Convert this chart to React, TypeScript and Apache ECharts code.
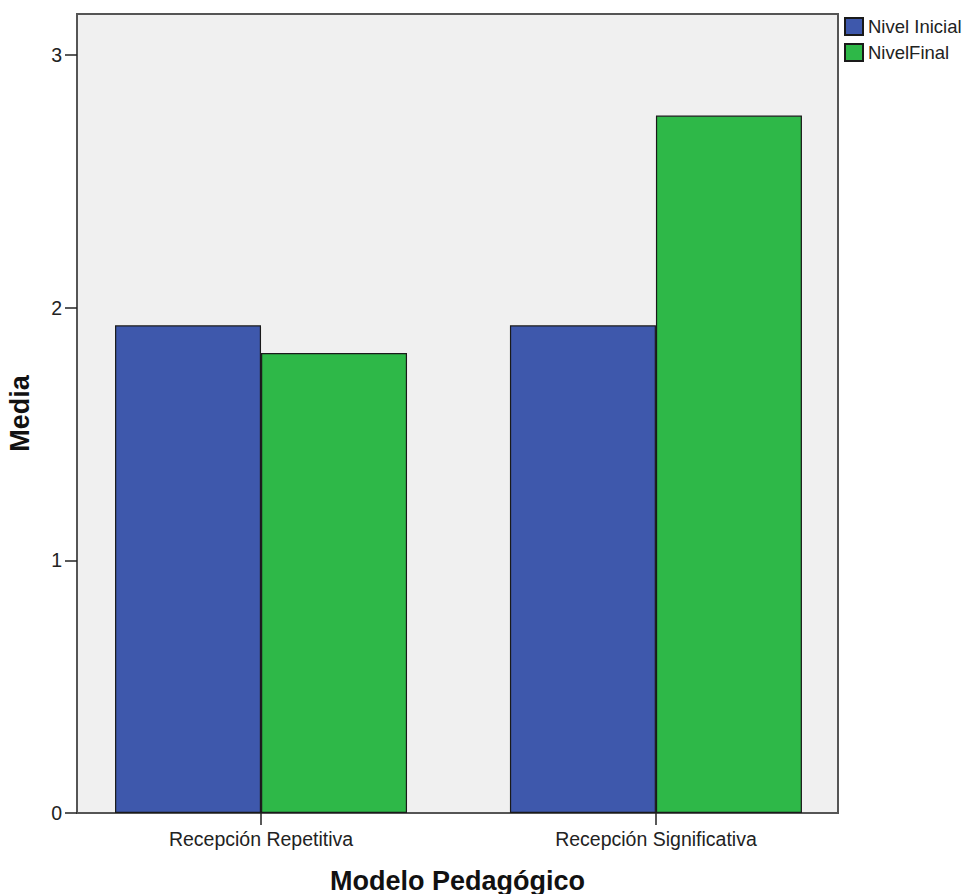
import React, { useEffect, useRef } from "react";
import * as echarts from "echarts";

const categories = ["Recepción Repetitiva", "Recepción Significativa"];
const categoryPositions = [1, 2];
const nivelInicial = [1.93, 1.93];
const nivelFinal = [1.82, 2.76];
const yTicks = [0, 1, 2, 3];
const seriesNames = ["Nivel Inicial", "NivelFinal"];

const FONT = "'Liberation Sans', Arial, sans-serif";

export default function App() {
  const ref = useRef<HTMLDivElement>(null);
  useEffect(() => {
    if (!ref.current) return;
    const chart = echarts.init(ref.current, undefined, { renderer: "svg" });
    chart.setOption({
      animation: false,
      textStyle: { fontFamily: FONT },
      grid: {
        left: 77,
        right: 128,
        top: 14,
        bottom: 81,
        containLabel: false,
        outerBoundsMode: "none",
        show: true,
        backgroundColor: "#f0f0f0",
        borderColor: "#555555",
        borderWidth: 2,
      },
      legend: {
        orient: "vertical",
        left: 844,
        top: 17,
        padding: 0,
        itemWidth: 18,
        itemHeight: 17,
        itemGap: 7,
        icon: "rect",
        align: "left",
        textStyle: { fontSize: 18.5, color: "#222", fontFamily: FONT },
        data: seriesNames,
      },
      xAxis: {
        type: "value",
        min: 0.534,
        max: 2.461,
        name: "Modelo Pedagógico",
        nameLocation: "middle",
        nameGap: 54,
        nameTextStyle: { fontSize: 27, fontWeight: "bold", color: "#111", fontFamily: FONT },
        splitLine: { show: false },
        axisLine: { show: true, lineStyle: { color: "#555555", width: 2 } },
        axisTick: {
          show: true,
          customValues: categoryPositions,
          length: 12,
          lineStyle: { color: "#222", width: 1.5 },
        },
        axisLabel: {
          customValues: categoryPositions,
          fontSize: 19.5,
          color: "#222",
          margin: 16,
          formatter: (v: number) => {
            const i = categoryPositions.indexOf(Math.round(v));
            return i >= 0 ? categories[i] : "";
          },
        },
      },
      yAxis: {
        type: "value",
        min: 0,
        max: 3.162,
        name: "Media",
        nameLocation: "middle",
        nameGap: 44,
        nameRotate: 90,
        nameTextStyle: { fontSize: 27, fontWeight: "bold", color: "#111", fontFamily: FONT },
        splitLine: { show: false },
        axisLine: { show: true, lineStyle: { color: "#555555", width: 2 } },
        axisTick: {
          show: true,
          customValues: yTicks,
          length: 12,
          lineStyle: { color: "#222", width: 1.5 },
        },
        axisLabel: {
          customValues: yTicks,
          fontSize: 19.5,
          color: "#222",
          margin: 15,
        },
      },
      series: [
        {
          name: seriesNames[0],
          type: "bar",
          barWidth: 146,
          barGap: "0%",
          data: categoryPositions.map((x, i) => [x, nivelInicial[i]]),
          itemStyle: { color: "#3e58ac", borderColor: "#1a1a1a", borderWidth: 1.2 },
        },
        {
          name: seriesNames[1],
          type: "bar",
          barWidth: 146,
          barGap: "0%",
          data: categoryPositions.map((x, i) => [x, nivelFinal[i]]),
          itemStyle: { color: "#2eb848", borderColor: "#1a1a1a", borderWidth: 1.2 },
        },
      ],
    });
    return () => chart.dispose();
  }, []);
  return (
    <div
      ref={ref}
      style={{ position: "absolute", left: 0, top: 0, width: 966, height: 894, background: "#fff" }}
    />
  );
}
